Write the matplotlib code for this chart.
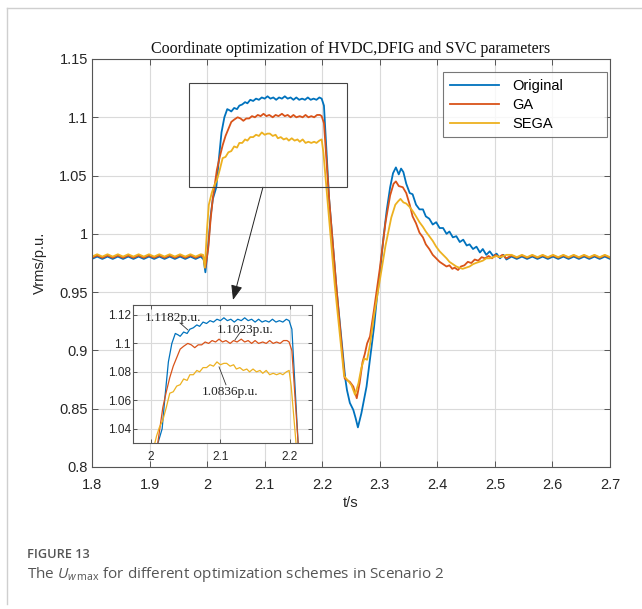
import matplotlib
matplotlib.use("Agg")
import matplotlib.pyplot as plt
from matplotlib.lines import Line2D
from matplotlib.patches import Rectangle

# ---- data ----
series_names = ["Original", "GA", "SEGA"]
series_colors = ["#0072BD", "#D95319", "#EDB120"]

# shared steady-state time points (ripple half period)
t_pre = [1.800, 1.809, 1.818, 1.827, 1.836, 1.845, 1.854, 1.863, 1.872, 1.881, 1.890,
         1.899, 1.908, 1.917, 1.926, 1.935, 1.944, 1.953, 1.962, 1.971, 1.980, 1.989]
t_post = [2.529, 2.538, 2.547, 2.556, 2.565, 2.574, 2.583, 2.592, 2.601, 2.610,
          2.619, 2.628, 2.637, 2.646, 2.655, 2.664, 2.673, 2.682, 2.691, 2.700]

orig_pre = [0.9785, 0.9805] * 11
ga_pre = [0.9795, 0.9815] * 11
sega_pre = [0.9805, 0.9825] * 11

orig_post = [0.9805, 0.9785] * 10
ga_post = [0.9815, 0.9795] * 10
sega_post = [0.9820, 0.9800] * 10

# transient parts
orig_t = [1.994, 1.997, 2.002, 2.006, 2.010, 2.016, 2.020, 2.025, 2.030, 2.035, 2.039, 2.042,
          2.047, 2.052, 2.056, 2.061, 2.066, 2.070, 2.075, 2.080, 2.085, 2.090, 2.095, 2.100,
          2.105, 2.110, 2.115, 2.120, 2.125, 2.130, 2.135, 2.140, 2.145, 2.150, 2.155, 2.160,
          2.165, 2.170, 2.175, 2.180, 2.185, 2.190, 2.195, 2.199, 2.203, 2.212, 2.225, 2.240,
          2.243, 2.248, 2.254, 2.258, 2.262, 2.268, 2.277, 2.285, 2.290, 2.295, 2.300, 2.306,
          2.312, 2.318, 2.323, 2.328, 2.333, 2.337, 2.341, 2.346, 2.352, 2.357, 2.363, 2.369,
          2.375, 2.380, 2.386, 2.392, 2.398, 2.404, 2.410, 2.416, 2.421, 2.427, 2.433, 2.439,
          2.445, 2.451, 2.456, 2.462, 2.468, 2.474, 2.479, 2.485, 2.491, 2.497, 2.503, 2.509,
          2.515, 2.520]
orig_v = [0.978, 0.967, 0.990, 1.015, 1.030, 1.040, 1.062, 1.087, 1.100, 1.107, 1.106, 1.105,
          1.108, 1.107, 1.110, 1.111, 1.113, 1.112, 1.115, 1.114, 1.116, 1.115, 1.117, 1.116,
          1.118, 1.116, 1.117, 1.115, 1.117, 1.116, 1.118, 1.116, 1.117, 1.115, 1.117, 1.115,
          1.116, 1.115, 1.117, 1.115, 1.116, 1.115, 1.117, 1.116, 1.110, 1.030, 0.952, 0.876,
          0.866, 0.855, 0.849, 0.842, 0.834, 0.846, 0.869, 0.900, 0.920, 0.945, 0.965, 0.995,
          1.020, 1.040, 1.052, 1.057, 1.051, 1.056, 1.053, 1.043, 1.035, 1.034, 1.025, 1.021,
          1.021, 1.015, 1.013, 1.008, 1.010, 1.005, 1.005, 1.000, 1.002, 0.997, 0.998, 0.993,
          0.995, 0.990, 0.991, 0.987, 0.989, 0.984, 0.987, 0.982, 0.985, 0.981, 0.983, 0.979,
          0.982, 0.978]

ga_t = [1.994, 1.997, 2.002, 2.006, 2.010, 2.017, 2.022, 2.027, 2.032, 2.037, 2.042, 2.047,
        2.053, 2.058, 2.063, 2.068, 2.073, 2.078, 2.083, 2.088, 2.093, 2.098, 2.103, 2.108,
        2.114, 2.119, 2.124, 2.130, 2.135, 2.140, 2.145, 2.150, 2.155, 2.161, 2.166, 2.171,
        2.176, 2.181, 2.186, 2.191, 2.196, 2.199, 2.203, 2.212, 2.225, 2.239, 2.248, 2.254,
        2.260, 2.265, 2.270, 2.274, 2.278, 2.283, 2.290, 2.300, 2.310, 2.318, 2.324, 2.328,
        2.333, 2.340, 2.346, 2.352, 2.357, 2.363, 2.369, 2.375, 2.380, 2.386, 2.392, 2.398,
        2.404, 2.410, 2.416, 2.421, 2.426, 2.430, 2.436, 2.441, 2.447, 2.453, 2.459, 2.465,
        2.471, 2.477, 2.483, 2.489, 2.495, 2.501, 2.507, 2.513, 2.520]
ga_v = [0.980, 0.971, 0.988, 1.012, 1.031, 1.055, 1.066, 1.076, 1.084, 1.090, 1.096, 1.098,
        1.100, 1.099, 1.097, 1.099, 1.099, 1.101, 1.100, 1.102, 1.101, 1.103, 1.101, 1.102,
        1.100, 1.102, 1.101, 1.103, 1.101, 1.102, 1.100, 1.102, 1.100, 1.101, 1.100, 1.102,
        1.100, 1.101, 1.100, 1.102, 1.102, 1.101, 1.095, 1.030, 0.952, 0.876, 0.873, 0.869,
        0.859, 0.872, 0.890, 0.897, 0.906, 0.912, 0.935, 0.970, 1.010, 1.033, 1.043, 1.045,
        1.041, 1.040, 1.035, 1.025, 1.015, 1.009, 1.001, 0.997, 0.991, 0.987, 0.982, 0.979,
        0.976, 0.974, 0.972, 0.973, 0.970, 0.971, 0.969, 0.972, 0.973, 0.976, 0.975, 0.978,
        0.977, 0.980, 0.979, 0.981, 0.979, 0.982, 0.980, 0.982, 0.979]

sega_t = [1.993, 1.996, 2.000, 2.003, 2.008, 2.012, 2.017, 2.022, 2.027, 2.032, 2.037, 2.042,
          2.047, 2.052, 2.056, 2.061, 2.066, 2.070, 2.075, 2.080, 2.085, 2.090, 2.095, 2.100,
          2.105, 2.109, 2.114, 2.119, 2.123, 2.128, 2.133, 2.138, 2.142, 2.147, 2.152, 2.157,
          2.161, 2.166, 2.171, 2.176, 2.181, 2.186, 2.190, 2.195, 2.199, 2.202, 2.209, 2.222,
          2.238, 2.245, 2.251, 2.257, 2.263, 2.268, 2.273, 2.278, 2.283, 2.290, 2.300, 2.310,
          2.320, 2.327, 2.332, 2.336, 2.341, 2.346, 2.352, 2.358, 2.363, 2.369, 2.375, 2.380,
          2.386, 2.392, 2.398, 2.404, 2.410, 2.416, 2.421, 2.427, 2.433, 2.438, 2.444, 2.450,
          2.456, 2.462, 2.467, 2.473, 2.479, 2.485, 2.491, 2.497, 2.503, 2.510, 2.520]
sega_v = [0.982, 0.971, 1.005, 1.025, 1.035, 1.041, 1.046, 1.055, 1.065, 1.066, 1.070, 1.071,
          1.075, 1.074, 1.078, 1.078, 1.081, 1.080, 1.083, 1.083, 1.085, 1.084, 1.087, 1.085,
          1.086, 1.086, 1.084, 1.085, 1.082, 1.083, 1.081, 1.082, 1.080, 1.082, 1.080, 1.081,
          1.079, 1.081, 1.078, 1.079, 1.078, 1.079, 1.078, 1.080, 1.081, 1.070, 1.030, 0.955,
          0.878, 0.874, 0.870, 0.862, 0.872, 0.885, 0.893, 0.892, 0.905, 0.930, 0.960, 0.990,
          1.014, 1.025, 1.028, 1.030, 1.027, 1.026, 1.023, 1.019, 1.015, 1.010, 1.006, 1.002,
          0.998, 0.994, 0.989, 0.985, 0.982, 0.979, 0.976, 0.974, 0.972, 0.971, 0.970, 0.971,
          0.972, 0.974, 0.975, 0.976, 0.977, 0.979, 0.979, 0.980, 0.981, 0.980, 0.982]

x_ticks = [1.8, 1.9, 2.0, 2.1, 2.2, 2.3, 2.4, 2.5, 2.6, 2.7]
x_ticklabels = ["1.8", "1.9", "2", "2.1", "2.2", "2.3", "2.4", "2.5", "2.6", "2.7"]
y_ticks = [0.8, 0.85, 0.9, 0.95, 1.0, 1.05, 1.1, 1.15]
y_ticklabels = ["0.8", "0.85", "0.9", "0.95", "1", "1.05", "1.1", "1.15"]
inset_x_ticks = [2.0, 2.1, 2.2]
inset_x_ticklabels = ["2", "2.1", "2.2"]
inset_y_ticks = [1.04, 1.06, 1.08, 1.1, 1.12]
inset_y_ticklabels = ["1.04", "1.06", "1.08", "1.1", "1.12"]

# peak annotations: text, text position, leader start, leader end
peak_labels = ["1.1182p.u.", "1.1023p.u.", "1.0836p.u."]
peak_text_xy = [(1.9914, 1.1179), (2.095, 1.1093), (2.0734, 1.066)]
peak_leader = [((2.0417, 1.1144), (2.053, 1.1095)),
               ((2.128, 1.1074), (2.121, 1.1025)),
               ((2.108, 1.0709), (2.098, 1.0835))]

series_t = [t_pre + orig_t + t_post, t_pre + ga_t + t_post, t_pre + sega_t + t_post]
series_v = [orig_pre + orig_v + orig_post, ga_pre + ga_v + ga_post, sega_pre + sega_v + sega_post]

# ---- figure ----
W, H = 642, 609
fig = plt.figure(figsize=(W / 100, H / 100), dpi=100)
plt.rcParams['font.family'] = ['Liberation Sans', 'DejaVu Sans']

axis_col = "#555555"
grid_col = "#dadada"
text_col = "#262626"


def px(x0, y0, x1, y1):
    # pixel box (top-left origin) -> figure fraction rect
    return [x0 / W, 1 - y1 / H, (x1 - x0) / W, (y1 - y0) / H]


def style_axes(ax, fs, pad_x, pad_y):
    for s in ax.spines.values():
        s.set_color(axis_col)
        s.set_linewidth(0.8)
    ax.grid(True, color=grid_col, linewidth=0.8)
    ax.set_axisbelow(True)
    ax.tick_params(direction="in", top=True, right=True, length=4, width=0.7,
                   color=axis_col, labelsize=fs, labelcolor=text_col)
    ax.tick_params(axis="x", pad=pad_x)
    ax.tick_params(axis="y", pad=pad_y)


ax = fig.add_axes(px(92, 59, 610, 467))
for t, v, c, n in zip(series_t, series_v, series_colors, series_names):
    ax.plot(t, v, color=c, lw=1.3, label=n)
ax.set_xlim(1.8, 2.7)
ax.set_ylim(0.8, 1.15)
ax.set_xticks(x_ticks)
ax.set_xticklabels(x_ticklabels)
ax.set_yticks(y_ticks)
ax.set_yticklabels(y_ticklabels)
style_axes(ax, 10.5, 8, 3)
ax.set_xlabel("t/s", fontsize=10.5, color=text_col, labelpad=3)
ax.set_ylabel("Vrms/p.u.", fontsize=10.5, color=text_col, labelpad=9)
ax.set_title("Coordinate optimization of HVDC,DFIG and SVC parameters",
             fontsize=11.5, family="Liberation Serif", color="#111111", pad=4)

leg = ax.legend(loc="upper left", bbox_to_anchor=(0.6776, 0.811, 0.3166, 0.157),
                mode="expand", fontsize=10.5, frameon=True, fancybox=False,
                edgecolor=axis_col, handlelength=3.4, labelspacing=0.35,
                borderpad=0.45, handletextpad=0.9, borderaxespad=0)
leg.get_frame().set_linewidth(0.8)

# zoom box and arrow
ax.add_patch(Rectangle((1.968, 1.040), 0.275, 0.0894, fill=False,
                       edgecolor="#444444", lw=0.8, zorder=5))
ax.annotate("", xy=(2.045, 0.9433), xytext=(2.097, 1.040),
            arrowprops=dict(arrowstyle="-|>,head_length=0.9,head_width=0.35",
                            color="#222222", lw=0.7, shrinkA=0, shrinkB=0))

# inset
ins = fig.add_axes(px(133, 305, 312, 443))
ins.set_facecolor("white")
for t, v, c in zip(series_t, series_v, series_colors):
    ins.plot(t, v, color=c, lw=0.9)
ins.set_xlim(1.974, 2.232)
ins.set_ylim(1.030, 1.127)
ins.set_xticks(inset_x_ticks)
ins.set_xticklabels(inset_x_ticklabels)
ins.set_yticks(inset_y_ticks)
ins.set_yticklabels(inset_y_ticklabels)
style_axes(ins, 8.5, 6, 1.5)
ins.tick_params(length=3)

for lab, (tx, ty), (p0, p1) in zip(peak_labels, peak_text_xy, peak_leader):
    ins.text(tx, ty, lab, fontsize=9.5, family="Liberation Serif", color="#222222",
             ha="left", va="center")
    ins.plot([p0[0], p1[0]], [p0[1], p1[1]], color="#333333", lw=0.6)

# card border
fig.add_artist(Line2D([7 / W, 1], [1 - 8 / H, 1 - 8 / H], color="#cfcfcf", lw=1.0))
fig.add_artist(Line2D([7 / W, 7 / W], [1 - 8 / H, 1 - 604 / H], color="#cfcfcf", lw=1.0))

# caption
plt.rcParams['mathtext.fontset'] = 'custom'
plt.rcParams['mathtext.rm'] = 'Open Sans'
plt.rcParams['mathtext.it'] = 'Open Sans:italic'
fig.text(27 / W, 1 - 555 / H, "FIGURE 13", fontsize=9.2, family="Open Sans",
         weight="semibold", color="#555555", ha="left", va="center")
fig.text(27 / W, 1 - 574 / H, r"The $U_{w\,\mathrm{max}}$ for different optimization schemes in Scenario 2",
         fontsize=11, family="Open Sans", color="#555555", ha="left", va="center")

fig.savefig("out.png", dpi=100)
